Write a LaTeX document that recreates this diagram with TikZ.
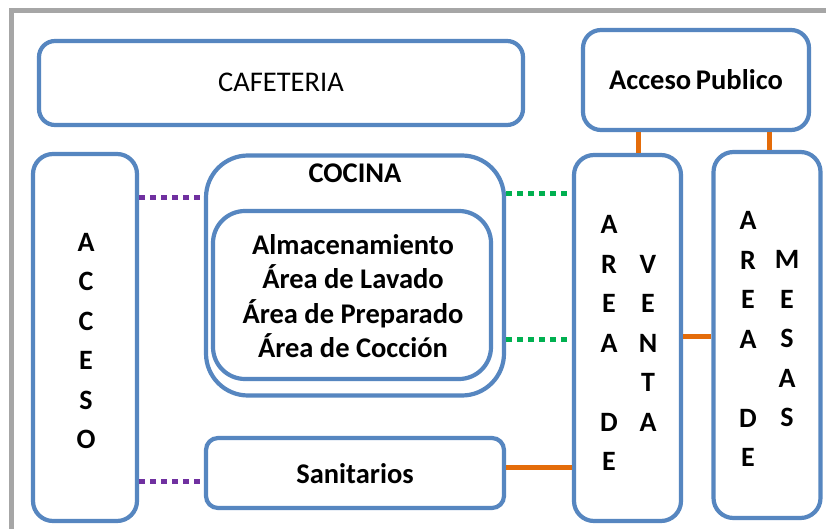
\documentclass[tikz,border=0pt]{standalone}
\usepackage{fontspec}
\setmainfont{Carlito}
\definecolor{boxblue}{RGB}{86,134,192}
\definecolor{lineorange}{RGB}{228,108,10}
\definecolor{linepurple}{RGB}{112,48,160}
\definecolor{linegreen}{RGB}{0,176,80}
\definecolor{framegrey}{RGB}{166,166,166}
\tikzset{
  box/.style={draw=boxblue, line width=4.2pt, rectangle, rounded corners=#1, inner sep=0pt, fill=white},
  box/.default=16pt,
  lbl/.style={font=\bfseries\fontsize{28.5}{34.5}\selectfont, align=center, inner sep=0pt},
  letters/.style={font=\bfseries\fontsize{28}{39.5}\selectfont, align=center, inner sep=0pt},
  purpledot/.style={draw=linepurple, line width=5pt, dash pattern=on 6pt off 5pt},
  greendot/.style={draw=linegreen, line width=5pt, dash pattern=on 6pt off 5pt},
  orangeline/.style={draw=lineorange, line width=5pt}
}
\begin{document}
\begin{tikzpicture}[x=1pt,y=-1pt]
\useasboundingbox (0,0) rectangle (826,529);
\fill[white] (0,0) rectangle (826,529);
\draw[framegrey, line width=5pt] (11.5,529) -- (11.5,10.5) -- (826,10.5);

% boxes
\node[box, minimum width=484pt, minimum height=84pt] (cafe) at (281,83) {};
\node[font=\fontsize{28.5}{34}\selectfont] (cafetxt) at (281,82) {CAFETERIA};
\node[box=18pt, minimum width=226pt, minimum height=100pt] (pub) at (696,80) {};
\node[lbl] (pubtxt) at (696,80) {Acceso\,Publico};

\node[box=20pt, minimum width=104pt, minimum height=367pt] (acceso) at (85,337.5) {};
\node[letters] (accesotxt) at (86,341) {A\\C\\C\\E\\S\\O};

\node[box=42pt, minimum width=298pt, minimum height=240pt] (cocina) at (355,275.5) {};
\node[lbl] (cocinatxt) at (355,173) {COCINA};
\node[box=32pt, minimum width=278pt, minimum height=168pt] (inner) at (352,295) {};
\node[lbl] (innertxt) at (353,296) {Almacenamiento\\Área de Lavado\\Área de Preparado\\Área de Cocción};

\node[box=12pt, minimum width=298pt, minimum height=70pt] (sanit) at (355,473) {};
\node[lbl] (sanittxt) at (355,474) {Sanitarios};

\node[box=20pt, minimum width=107pt, minimum height=366pt] (venta) at (627.5,338) {};
\node[letters] (venta1) at (609,343) {A\\R\\E\\A\\[39.5pt]D\\E};
\node[letters] (venta2) at (648,343) {V\\E\\N\\T\\A};

\node[box=20pt, minimum width=107pt, minimum height=366pt] (mesas) at (767,335) {};
\node[letters] (mesas1) at (748,339) {A\\R\\E\\A\\[39.5pt]D\\E};
\node[letters] (mesas2) at (787,339) {M\\E\\S\\A\\S};

% connectors
\draw[purpledot] (acceso.east |- 0,198) -- (cocina.west |- 0,198);
\draw[purpledot] (acceso.east |- 0,481) -- (sanit.west |- 0,481);
\draw[greendot] (cocina.east |- 0,194) -- (venta.west |- 0,194);
\draw[greendot] (cocina.east |- 0,339) -- (venta.west |- 0,339);
\draw[orangeline] (sanit.east |- 0,467) -- (venta.west |- 0,467);
\draw[orangeline] (venta.east |- 0,336) -- (mesas.west |- 0,336);
\draw[orangeline] (pub.south -| 638,0) -- (venta.north -| 638,0);
\draw[orangeline] (pub.south -| 769,0) -- (mesas.north -| 769,0);
\end{tikzpicture}
\end{document}
